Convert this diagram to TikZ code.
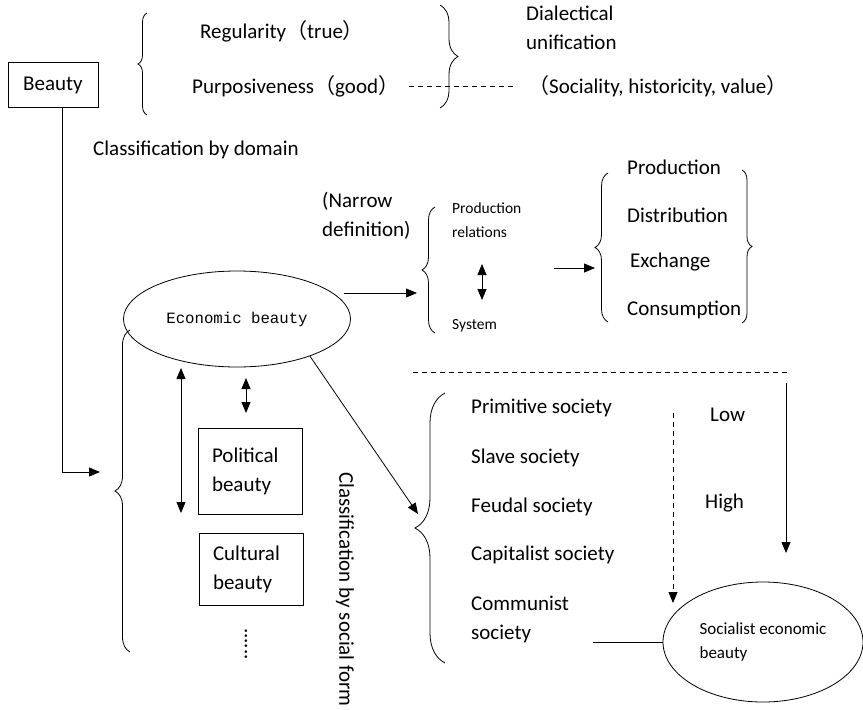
\documentclass[tikz,border=0pt]{standalone}
\usepackage{fontspec}
\setmainfont{Carlito}
\newfontfamily\cjk{Noto Sans CJK SC}
\newfontfamily\monofnt{Liberation Mono}
\usetikzlibrary{shapes.geometric,arrows.meta,decorations.pathreplacing}
\tikzstyle{box}=[draw,line width=0.8pt,align=left,inner xsep=14pt]
\tikzstyle{oval}=[draw,ellipse,line width=0.8pt,inner sep=0pt]
\tikzstyle{lbl}=[anchor=west,inner sep=0pt,align=left]
\tikzstyle{small}=[font=\fontsize{15.5}{24}\selectfont]
\tikzstyle{line}=[line width=0.8pt]
\tikzstyle{arr}=[line width=0.8pt,-{Triangle[length=11pt,width=9pt]}]
\tikzstyle{dbl}=[line width=0.8pt,{Triangle[length=11pt,width=9pt]}-{Triangle[length=11pt,width=9pt]}]
\tikzstyle{dash line}=[line width=0.8pt,dash pattern=on 5pt off 4pt]
\tikzstyle{curly}=[decorate,decoration={brace,amplitude=#1},line width=0.8pt]
\newcommand{\fwl}{{\cjk （}}
\newcommand{\fwr}{{\cjk ）}}

\begin{document}
\begin{tikzpicture}[x=1pt,y=-1pt,font=\fontsize{21}{29}\selectfont]
  \useasboundingbox (0,0) rectangle (863,710);
  \node[box,minimum width=90pt,minimum height=45pt,inner xsep=0pt] (beauty) at (53,85) {Beauty};
  \node[lbl] (regul) at (200,31) {Regularity\fwl true\fwr};
  \node[lbl] (purpo) at (192,86) {Purposiveness\fwl good\fwr};
  \node[lbl] (dialec) at (526,28) {Dialectical\\unification};
  \node[lbl] (socia) at (528,86) {\fwl Sociality, historicity, value\fwr};
  \node[lbl] (domain) at (93,150) {Classification by domain};
  \node[oval,minimum width=227pt,minimum height=96pt,font=\monofnt\fontsize{15.7}{19}\selectfont] (econ) at (237,319) {Economic beauty};
  \node[lbl] (narrow) at (322,216) {(Narrow\\definition)};
  \node[lbl,small] (prodrel) at (452,220) {Production\\relations};
  \node[lbl,small] (system) at (452,326) {System};
  \node[lbl] (prodn) at (627,167) {Production};
  \node[lbl] (distr) at (627,215) {Distribution};
  \node[lbl] (exchg) at (630,262) {Exchange};
  \node[lbl] (consm) at (627,310) {Consumption};
  \node[box,minimum width=104pt,minimum height=86pt,text width=76pt] (polit) at (250,471) {Political\\beauty};
  \node[box,minimum width=104pt,minimum height=72pt,text width=76pt] (cultu) at (251,569) {Cultural\\beauty};
  \node[rotate=-90,inner sep=0pt] (dots) at (246,644) {......};
  \node[rotate=-90,anchor=west,inner sep=0pt] (form) at (345,472) {Classification by social form};
  \node[lbl] (primi) at (471,408) {Primitive society};
  \node[lbl] (slave) at (471,458) {Slave society};
  \node[lbl] (feuda) at (471,507) {Feudal society};
  \node[lbl] (capit) at (471,555) {Capitalist society};
  \node[lbl] (commu) at (471,619) {Communist\\society};
  \node[lbl] (low) at (710,415) {Low};
  \node[lbl] (high) at (705,503) {High};
  \node[oval,minimum width=200pt,minimum height=120pt,align=left,font=\fontsize{17}{24}\selectfont] (socec) at (763,642) {Socialist economic\\beauty};

  \draw[curly=9pt] (147,115) -- (147,13);
  \draw[curly=18pt] (440,5) -- (440,108);
  \draw[curly=15pt] (130,652) -- (130,330);
  \draw[curly=13pt] (435,333) -- (435,207);
  \draw[curly=13pt] (608,322) -- (608,173);
  \draw[curly=10pt] (742,170) -- (742,323);
  \draw[curly=30pt] (445,663) -- (445,393);

  \coordinate (bend) at (62,472);
  \coordinate (domtip) at (100,472);
  \coordinate (pbtip) at (417,293);
  \coordinate (fourtip) at (595,268);
  \coordinate (socbr) at (418,514);
  \coordinate (relup) at (482,264);
  \coordinate (reldown) at (482,300);
  \coordinate (longup) at (181,368);
  \coordinate (longdown) at (181,513);
  \coordinate (shortup) at (246,378);
  \coordinate (shortdown) at (246,413);
  \coordinate (sepleft) at (413,372);
  \coordinate (sepright) at (788,372);
  \coordinate (hightop) at (786,383);
  \coordinate (highend) at (786,553);
  \coordinate (lowtop) at (673,413);
  \coordinate (lowend) at (673,603);
  \coordinate (commline) at (593,642);

  \draw[arr] (beauty.south -| bend) |- (domtip);
  \draw[dash line] ([xshift=10pt]purpo.east) -- ([xshift=-15pt]socia.west);
  \draw[arr] ([xshift=-7pt]econ.east |- pbtip) -- (pbtip);
  \draw[dbl] (relup) -- (reldown);
  \draw[arr] ([xshift=32pt]prodrel.east |- fourtip) -- (fourtip);
  \draw[dbl] (longup) -- (longdown);
  \draw[dbl] (shortup) -- (shortdown);
  \draw[arr] (econ.-27) -- (socbr);
  \draw[dash line] (sepleft) -- (sepright);
  \draw[arr] (hightop) -- (highend);
  \draw[arr,dash line] (lowtop) -- (lowend);
  \draw[line] (commline) -- (socec.west);
\end{tikzpicture}
\end{document}
